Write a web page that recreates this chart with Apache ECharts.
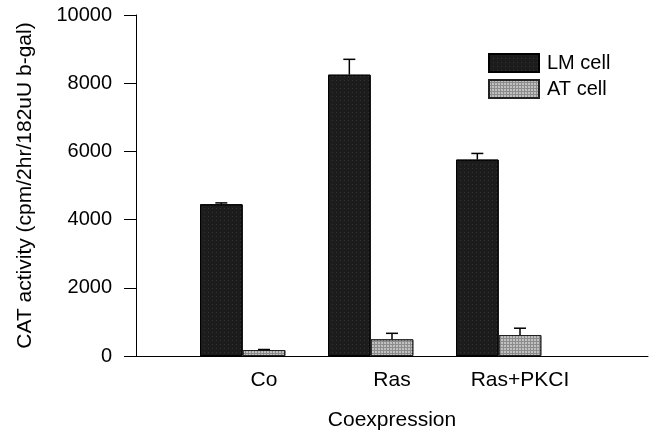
<!DOCTYPE html>
<html>
<head>
<meta charset="utf-8">
<script src="https://cdn.jsdelivr.net/npm/echarts@6/dist/echarts.min.js"></script>
<style>
  html, body { margin: 0; padding: 0; background: #fff; }
  #chart { width: 654px; height: 432px; }
</style>
</head>
<body>
<div id="chart"></div>
<script>
var categories = ['Co', 'Ras', 'Ras+PKCI'];
var lmValues = [4450, 8250, 5760];
var lmErrors = [40, 450, 180];
var atValues = [175, 490, 615];
var atErrors = [15, 175, 200];
var yTicks = { min: 0, max: 10000, interval: 2000 };

// axis has an empty slot at each end, bars sit on ticks 1..3
var axisCats = [''].concat(categories, ['']);
function pad(arr) { return ['-'].concat(arr, ['-']); }
function errData(vals, errs) {
    return vals.map(function (v, i) { return [i + 1, v, errs[i]]; });
}

var font = 'Liberation Sans, Arial, sans-serif';

function errorBar(shift) {
    return function (params, api) {
        var idx = api.value(0);
        var base = api.coord([idx, api.value(1)]);
        var top = api.coord([idx, api.value(1) + api.value(2)]);
        var band = api.size([1, 0])[0];
        var x = base[0] + shift * band / 3;
        var st = { stroke: '#000', lineWidth: 1.5 };
        return {
            type: 'group',
            children: [
                { type: 'line', shape: { x1: x, y1: base[1], x2: x, y2: top[1] }, style: st },
                { type: 'line', shape: { x1: x - 6, y1: top[1], x2: x + 6, y2: top[1] }, style: st }
            ]
        };
    };
}

var myChart = echarts.init(document.getElementById('chart'));
var option = {
    animation: false,
    textStyle: { fontFamily: font },
    grid: { left: 136, right: 6, top: 15, bottom: 76, outerBoundsMode: 'none', containLabel: false },
    legend: {
        data: ['LM cell', 'AT cell'],
        orient: 'vertical',
        left: 483,
        top: 48,
        itemWidth: 50,
        itemHeight: 18,
        itemGap: 6,
        icon: 'rect',
        textStyle: { fontSize: 20, color: '#000', fontFamily: font, padding: [0, 0, 0, 3] }
    },
    xAxis: {
        type: 'category',
        data: axisCats,
        boundaryGap: false,
        name: 'Coexpression',
        nameLocation: 'middle',
        nameGap: 54,
        nameTextStyle: { fontSize: 21, color: '#000', fontFamily: font },
        axisLine: { lineStyle: { color: '#000', width: 1 } },
        axisTick: { show: false },
        axisLabel: { interval: 0, fontSize: 21, color: '#000', margin: 14, fontFamily: font },
        splitLine: { show: false }
    },
    yAxis: {
        type: 'value',
        min: yTicks.min,
        max: yTicks.max,
        interval: yTicks.interval,
        name: 'CAT activity (cpm/2hr/182uU b-gal)',
        nameLocation: 'middle',
        nameGap: 100,
        nameTextStyle: { fontSize: 21, color: '#000', fontFamily: font },
        axisLine: { show: true, lineStyle: { color: '#000', width: 1 } },
        axisTick: { show: true, length: 12, lineStyle: { color: '#000' } },
        axisLabel: {
            fontSize: 20, color: '#000', margin: 24, fontFamily: font,
            formatter: function (v) { return String(v); }
        },
        splitLine: { show: false }
    },
    series: [
        {
            name: 'LM cell',
            type: 'bar',
            data: pad(lmValues),
            barGap: '0%',
            barCategoryGap: '0%',
            itemStyle: {
                color: '#1c1c1c',
                borderColor: '#000',
                borderWidth: 1,
                decal: {
                    symbol: 'rect',
                    symbolSize: 0.6,
                    color: 'rgba(255,255,255,0.35)',
                    dashArrayX: [1, 3],
                    dashArrayY: [1, 3]
                }
            }
        },
        {
            name: 'AT cell',
            type: 'bar',
            data: pad(atValues),
            barGap: '0%',
            barCategoryGap: '0%',
            itemStyle: {
                color: '#8c8c8c',
                borderColor: '#222',
                borderWidth: 1,
                decal: {
                    symbol: 'rect',
                    symbolSize: 1,
                    color: 'rgba(255,255,255,0.45)',
                    dashArrayX: [2, 1],
                    dashArrayY: [2, 1]
                }
            }
        },
        {
            name: 'empty',
            type: 'bar',
            data: pad([0, 0, 0]),
            barGap: '0%',
            barCategoryGap: '0%',
            itemStyle: { color: 'rgba(0,0,0,0)' }
        },
        {
            name: 'LM err',
            type: 'custom',
            renderItem: errorBar(-1),
            data: errData(lmValues, lmErrors),
            z: 3
        },
        {
            name: 'AT err',
            type: 'custom',
            renderItem: errorBar(0),
            data: errData(atValues, atErrors),
            z: 3
        }
    ]
};
myChart.setOption(option);
window.addEventListener('resize', function () {
    myChart.resize();
});
</script>
</body>
</html>
